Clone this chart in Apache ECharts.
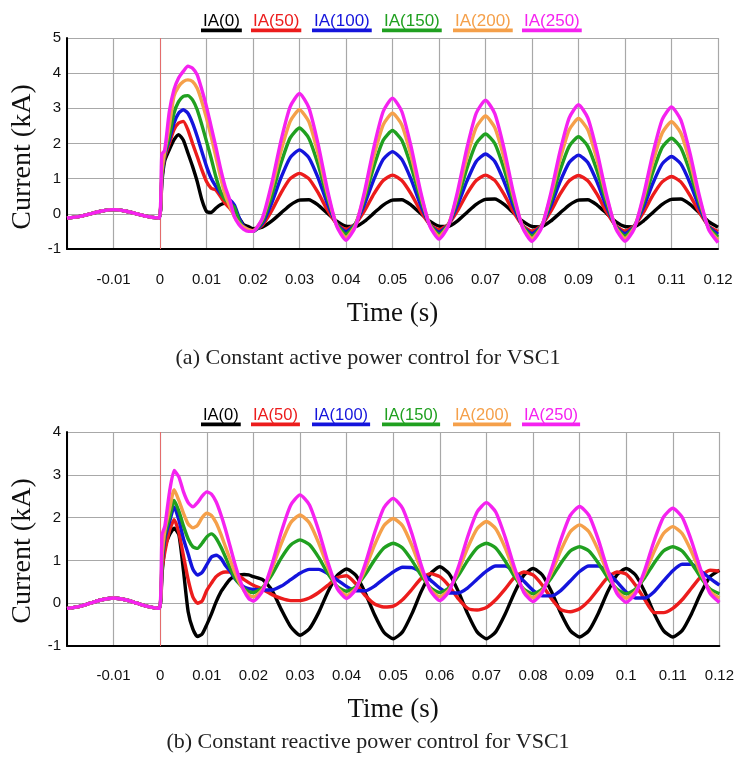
<!DOCTYPE html>
<html><head><meta charset="utf-8">
<script src="https://cdn.jsdelivr.net/npm/echarts/dist/echarts.min.js"></script>
<style>html,body{margin:0;padding:0;background:#fff;}#c{width:737px;height:775px;}</style>
</head><body><div id="c"></div>
<script>
// ---------- data ----------
const TIME = [-0.02,-0.0175,-0.015,-0.0125,-0.01,-0.0075,-0.005,-0.0025,-0.0002,
  0.0004,0.001,0.002,0.003,0.004,0.005,0.006,0.007,0.008,0.009,0.010,
  0.011,0.012,0.013,0.014,0.015,0.016,0.017,0.018,0.019,0.020,
  0.022,0.024,0.026,0.028,0.030,0.032,0.034,0.036,0.038,0.040,
  0.042,0.044,0.046,0.048,0.050,0.052,0.054,0.056,0.058,0.060,
  0.062,0.064,0.066,0.068,0.070,0.072,0.074,0.076,0.078,0.080,
  0.082,0.084,0.086,0.088,0.090,0.092,0.094,0.096,0.098,0.100,
  0.102,0.104,0.106,0.108,0.110,0.112,0.114,0.116,0.118,0.120];
// pre-fault current (common to all cases)
const PRE = [-0.12,-0.08,0.0,0.08,0.12,0.08,0.0,-0.08,-0.12];

const NAMES = ['IA(0)','IA(50)','IA(100)','IA(150)','IA(200)','IA(250)'];
const COLORS = ['#000000','#ec1c1c','#1414dc','#20a020','#f5a04a','#f522f0'];
const CAPTIONS = ['(a) Constant active power control for VSC1','(b) Constant reactive power control for VSC1'];
const Y_RANGE_A = [-1, 5];
const Y_RANGE_B = [-1, 4];
const X_RANGE = [-0.02, 0.12];

// (a) constant active power control
const A_IA0 = [0.9,1.5,1.82,2.1,2.25,2.1,1.73,1.35,0.92,0.40,0.07,0.04,0.16,0.26,0.30,0.26,0.07,-0.12,-0.31,-0.36,-0.42,
  -0.38,-0.21,0.02,0.25,0.39,0.40,0.25,0.02,-0.21,-0.35,
  -0.36,-0.21,0.02,0.25,0.39,0.40,0.25,0.02,-0.21,-0.35,
  -0.36,-0.20,0.04,0.27,0.41,0.42,0.27,0.03,-0.21,-0.36,
  -0.37,-0.21,0.02,0.25,0.39,0.40,0.25,0.02,-0.22,-0.36,
  -0.37,-0.20,0.04,0.27,0.41,0.42,0.27,0.03,-0.22,-0.38];
const A_IA50 = [1.0,1.6,2.0,2.39,2.58,2.63,2.39,2.0,1.63,1.25,0.92,0.73,0.68,0.49,0.30,0.16,-0.03,-0.22,-0.36,-0.45,-0.48,
  -0.33,0.08,0.59,1.00,1.15,1.00,0.60,0.11,-0.29,-0.44,
  -0.29,0.09,0.57,0.95,1.10,0.95,0.57,0.09,-0.30,-0.45,
  -0.30,0.09,0.57,0.95,1.10,0.95,0.55,0.06,-0.34,-0.49,
  -0.34,0.06,0.55,0.94,1.09,0.94,0.55,0.06,-0.34,-0.49,
  -0.34,0.05,0.53,0.91,1.06,0.91,0.52,0.04,-0.35,-0.50];
const A_IA100 = [1.0,1.65,2.1,2.58,2.86,2.96,2.86,2.58,2.2,1.77,1.35,1.01,0.78,0.59,0.45,0.40,0.25,-0.10,-0.36,-0.45,-0.50,
  -0.28,0.30,1.02,1.60,1.82,1.60,1.02,0.29,-0.29,-0.51,
  -0.29,0.28,0.98,1.55,1.77,1.55,0.98,0.27,-0.30,-0.52,
  -0.31,0.25,0.93,1.49,1.70,1.49,0.92,0.22,-0.35,-0.56,
  -0.35,0.21,0.90,1.46,1.67,1.46,0.90,0.21,-0.35,-0.56,
  -0.35,0.20,0.87,1.42,1.63,1.42,0.87,0.18,-0.37,-0.58];
const A_IA150 = [1.1,1.7,2.2,2.86,3.19,3.34,3.36,3.24,2.96,2.53,2.06,1.58,1.06,0.64,0.40,0.30,0.18,-0.18,-0.40,-0.47,-0.50,
  -0.22,0.51,1.43,2.16,2.44,2.15,1.40,0.46,-0.29,-0.58,
  -0.30,0.44,1.35,2.09,2.37,2.09,1.35,0.44,-0.30,-0.58,
  -0.31,0.40,1.29,2.00,2.27,2.00,1.27,0.37,-0.35,-0.63,
  -0.36,0.34,1.22,1.92,2.19,1.92,1.22,0.34,-0.36,-0.63,
  -0.37,0.33,1.19,1.89,2.15,1.88,1.18,0.31,-0.39,-0.66];
const A_IA200 = [1.2,1.75,2.5,3.34,3.62,3.76,3.81,3.76,3.57,3.19,2.72,2.2,1.63,1.06,0.54,0.21,-0.08,-0.27,-0.38,-0.45,-0.48,
  -0.15,0.71,1.77,2.63,2.96,2.62,1.71,0.58,-0.33,-0.67,
  -0.33,0.55,1.64,2.53,2.86,2.53,1.65,0.57,-0.31,-0.64,
  -0.32,0.54,1.60,2.46,2.78,2.45,1.58,0.50,-0.37,-0.70,
  -0.38,0.48,1.53,2.39,2.71,2.39,1.53,0.48,-0.38,-0.70,
  -0.39,0.45,1.47,2.30,2.62,2.30,1.46,0.42,-0.42,-0.74];
const A_IA250 = [1.7,1.8,2.9,3.53,3.86,4.05,4.2,4.14,3.95,3.53,3.05,2.48,1.91,1.30,0.78,0.40,-0.08,-0.31,-0.44,-0.50,-0.50,
  -0.13,0.85,2.07,3.05,3.42,3.02,1.98,0.69,-0.35,-0.75,
  -0.37,0.64,1.90,2.91,3.29,2.91,1.91,0.66,-0.34,-0.72,
  -0.35,0.64,1.87,2.86,3.23,2.85,1.85,0.60,-0.40,-0.78,
  -0.41,0.56,1.76,2.73,3.10,2.73,1.76,0.56,-0.41,-0.78,
  -0.42,0.54,1.72,2.68,3.04,2.67,1.71,0.51,-0.45,-0.82];

// (b) constant reactive power control
const B_IA0 = [0.7,1.3,1.6,1.75,1.6,0.75,-0.2,-0.6,-0.78,-0.72,-0.5,-0.25,0.03,0.26,0.42,0.56,0.63,0.66,0.67,0.66,0.62,
  0.55,0.30,-0.15,-0.55,-0.75,-0.60,-0.22,0.27,0.65,0.80,
  0.65,0.24,-0.27,-0.68,-0.83,-0.67,-0.25,0.27,0.69,0.85,
  0.69,0.27,-0.25,-0.67,-0.83,-0.67,-0.26,0.24,0.65,0.81,
  0.66,0.26,-0.24,-0.64,-0.79,-0.64,-0.24,0.26,0.66,0.81,
  0.66,0.26,-0.24,-0.64,-0.79,-0.64,-0.25,0.23,0.62,0.77];
const B_IA50 = [0.8,1.2,1.7,1.95,1.65,1.1,0.55,0.15,0.0,0.05,0.30,0.47,0.62,0.70,0.73,0.73,0.70,0.63,0.55,0.48,0.42,
  0.32,0.20,0.11,0.06,0.06,0.12,0.25,0.42,0.60,0.64,
  0.45,0.18,-0.02,-0.09,-0.07,0.08,0.32,0.58,0.69,0.62,
  0.40,0.10,-0.12,-0.16,-0.10,0.08,0.33,0.60,0.73,0.66,
  0.42,0.10,-0.15,-0.20,-0.13,0.06,0.33,0.60,0.73,0.68,
  0.42,0.08,-0.22,-0.22,-0.12,0.08,0.35,0.62,0.77,0.75];
const B_IA100 = [0.9,1.5,1.9,2.25,1.95,1.5,1.15,0.80,0.66,0.72,0.90,1.08,1.12,1.05,0.88,0.75,0.58,0.46,0.38,0.34,0.32,
  0.31,0.31,0.40,0.55,0.70,0.79,0.79,0.69,0.54,0.39,
  0.29,0.29,0.40,0.57,0.73,0.84,0.83,0.72,0.54,0.35,
  0.24,0.24,0.36,0.56,0.75,0.87,0.87,0.74,0.52,0.30,
  0.17,0.17,0.30,0.52,0.74,0.87,0.87,0.73,0.50,0.26,
  0.12,0.12,0.27,0.52,0.76,0.91,0.91,0.75,0.58,0.42];
const B_IA150 = [1.0,1.6,2.0,2.4,2.15,1.8,1.5,1.32,1.28,1.40,1.55,1.62,1.52,1.32,1.08,0.82,0.60,0.45,0.34,0.27,0.25,
  0.37,0.67,1.06,1.36,1.48,1.37,1.07,0.69,0.39,0.28,
  0.39,0.67,1.01,1.29,1.40,1.29,1.00,0.65,0.36,0.25,
  0.36,0.65,1.00,1.29,1.40,1.29,0.99,0.63,0.33,0.22,
  0.33,0.60,0.94,1.22,1.32,1.22,0.94,0.60,0.33,0.22,
  0.33,0.60,0.94,1.22,1.32,1.22,0.94,0.60,0.33,0.22];
const B_IA200 = [1.1,1.7,2.2,2.65,2.4,2.1,1.85,1.76,1.82,2.0,2.1,2.05,1.88,1.62,1.32,1.02,0.72,0.48,0.30,0.19,0.15,
  0.33,0.81,1.40,1.88,2.06,1.88,1.41,0.83,0.36,0.18,
  0.35,0.80,1.36,1.81,1.98,1.81,1.35,0.78,0.32,0.15,
  0.32,0.76,1.30,1.74,1.91,1.74,1.30,0.74,0.30,0.13,
  0.29,0.72,1.24,1.67,1.83,1.67,1.24,0.71,0.28,0.12,
  0.28,0.70,1.21,1.63,1.79,1.63,1.21,0.70,0.28,0.12];
const B_IA250 = [1.6,1.8,2.6,3.1,2.95,2.6,2.35,2.25,2.35,2.5,2.6,2.55,2.37,2.08,1.73,1.33,0.93,0.58,0.29,0.11,0.05,
  0.29,0.91,1.67,2.29,2.53,2.30,1.70,0.95,0.34,0.11,
  0.33,0.92,1.64,2.23,2.45,2.22,1.63,0.89,0.29,0.06,
  0.28,0.85,1.56,2.13,2.35,2.13,1.55,0.84,0.26,0.04,
  0.25,0.81,1.49,2.05,2.26,2.05,1.49,0.79,0.23,0.02,
  0.23,0.78,1.46,2.01,2.22,2.01,1.46,0.78,0.23,0.02];

const SERIES_A = [A_IA0, A_IA50, A_IA100, A_IA150, A_IA200, A_IA250];
const SERIES_B = [B_IA0, B_IA50, B_IA100, B_IA150, B_IA200, B_IA250];

// ---------- layout / style ----------
const chart = echarts.init(document.getElementById('c'), null, {renderer: 'canvas'});
const SANS = '"Liberation Sans", Arial, sans-serif';
const SERIF = '"Liberation Serif", "Times New Roman", serif';
const GRIDS = [
  {left: 67, top: 38, right: 19, height: 211},
  {left: 67, top: 432, right: 17, height: 214}
];
const LEG_X = [203, 253, 314, 384, 455, 524];
const LEG_Y = [21, 415];
const YNAME_Y = [157, 551];
const CAP_Y = [358, 742];

function xAxis(gi, labelMargin, nameGap) {
  return {
    type: 'value', gridIndex: gi, min: X_RANGE[0], max: X_RANGE[1], interval: 0.01,
    name: 'Time (s)', nameLocation: 'middle', nameGap: nameGap,
    nameTextStyle: {fontFamily: SERIF, fontSize: 27, color: '#111'},
    axisLine: {show: true, onZero: false, lineStyle: {color: '#000', width: 2}},
    axisTick: {show: false},
    axisLabel: {margin: labelMargin, fontFamily: SANS, fontSize: 15, color: '#111',
      formatter: v => (v < -0.015 ? '' : String(+v.toFixed(3)))},
    splitLine: {show: true, lineStyle: {color: '#a8a8a8', width: 1.2}}
  };
}
function yAxis(gi, range) {
  return {
    type: 'value', gridIndex: gi, min: range[0], max: range[1], interval: 1,
    axisLine: {show: true, onZero: false, lineStyle: {color: '#000', width: 2}},
    axisTick: {show: false},
    axisLabel: {margin: 6, fontFamily: SANS, fontSize: 15, color: '#111'},
    splitLine: {show: true, lineStyle: {color: '#a8a8a8', width: 1.2}}
  };
}

const series = [];
[SERIES_A, SERIES_B].forEach((set, gi) => {
  set.forEach((vals, i) => {
    const full = PRE.concat(vals);
    const s = {
      type: 'line', name: NAMES[i], xAxisIndex: gi, yAxisIndex: gi,
      data: TIME.map((t, k) => [t, full[k]]),
      showSymbol: false, smooth: 0.2, z: 3 + i,
      lineStyle: {color: COLORS[i], width: 3.4},
      itemStyle: {color: COLORS[i]},
      animation: false
    };
    if (i === 0) {
      s.markLine = {silent: true, symbol: 'none', label: {show: false},
        lineStyle: {color: '#e46c6c', width: 1, type: 'solid'}, data: [{xAxis: 0}]};
    }
    series.push(s);
  });
});

// legend-like labels with coloured underlines
const ctx = document.createElement('canvas').getContext('2d');
const graphic = [];
LEG_Y.forEach((ly, gi) => {
  const fs = gi === 0 ? 17 : 16.5;
  ctx.font = fs + 'px ' + SANS;
  NAMES.forEach((n, i) => {
    const w = ctx.measureText(n).width;
    graphic.push({type: 'text', x: LEG_X[i], y: ly, style: {text: n, fill: COLORS[i], fontFamily: SANS, fontSize: fs, textVerticalAlign: 'middle', verticalAlign: 'middle'}});
    graphic.push({type: 'rect', shape: {x: LEG_X[i] - 2, y: ly + 7.5, width: w + 4, height: 3.8}, style: {fill: COLORS[i]}});
  });
  graphic.push({type: 'text', x: 23, y: YNAME_Y[gi], rotation: Math.PI / 2,
    style: {text: 'Current (kA)', fill: '#111', fontFamily: SERIF, fontSize: 28, align: 'center', verticalAlign: 'middle', textAlign: 'center', textVerticalAlign: 'middle'}});
  graphic.push({type: 'text', x: 368, y: CAP_Y[gi],
    style: {text: CAPTIONS[gi], fill: '#222', fontFamily: SERIF, fontSize: 22, align: 'center', verticalAlign: 'middle', textAlign: 'center', textVerticalAlign: 'middle'}});
});

chart.setOption({
  animation: false,
  backgroundColor: '#fff',
  grid: GRIDS,
  xAxis: [xAxis(0, 23, 51), xAxis(1, 22, 50)],
  yAxis: [yAxis(0, Y_RANGE_A), yAxis(1, Y_RANGE_B)],
  series: series,
  graphic: graphic
});
</script></body></html>
